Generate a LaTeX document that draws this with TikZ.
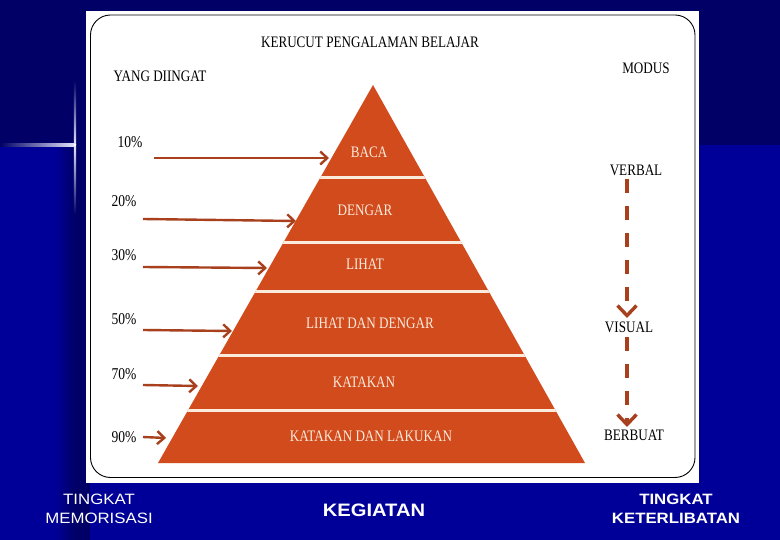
\documentclass[tikz,border=0pt]{standalone}
\usepackage{fontspec}
\setmainfont[FakeStretch=0.82]{Liberation Serif}
\newfontfamily\tah[FakeStretch=1.12]{Liberation Sans}
\usetikzlibrary{arrows.meta}
\definecolor{navy}{HTML}{000066}
\definecolor{bgblue}{HTML}{000098}
\definecolor{pyr}{HTML}{D14B1C}
\definecolor{arr}{HTML}{A8401E}
\definecolor{cream}{HTML}{FBEBDD}
\tikzset{
  lbl/.style={inner sep=0pt, font=\fontsize{16}{18}\selectfont, text=black},
  pct/.style={inner sep=0pt, font=\fontsize{16.5}{18}\selectfont, text=black},
  lay/.style={inner sep=0pt, font=\fontsize{16}{18}\selectfont, text=cream},
  foot/.style={inner sep=0pt, text=white, align=center},
  pctarrow/.style={draw=arr, line width=2.4pt, -{Straight Barb[length=7pt,width=13pt,line width=2.4pt]}},
  modarrow/.style={draw=arr, line width=3.6pt, dash pattern=on 14pt off 13pt, -{Straight Barb[length=10pt,width=19pt,line width=3.4pt]}},
  sep/.style={draw=cream, line width=3pt}
}
\begin{document}
\begin{tikzpicture}[x=1pt,y=-1pt]
\useasboundingbox (0,0) rectangle (780,540);
% background
\fill[bgblue] (0,0) rectangle (780,540);
\fill[navy] (0,0) rectangle (780,145);
\shade[left color=bgblue, right color=navy] (55,145) rectangle (75,540);
\fill[navy] (75,145) rectangle (90,540);
% flare
\shade[left color=navy, right color=white!90!blue] (0,143.8) rectangle (75,146.2);
\shade[top color=navy, bottom color=white!90!blue] (73.8,80) rectangle (76.2,145);
\shade[top color=white!90!blue, bottom color=navy] (73.8,145) rectangle (76.2,215);
\fill[white] (74,144) rectangle (76,146);
% panel
\fill[white] (86,11) rectangle (699,483);
\draw[black, line width=0.9pt, rounded corners=20pt] (90.5,15) rectangle (695,477.5);
% title texts
\node[lbl] (title) at (370,42) {KERUCUT PENGALAMAN BELAJAR};
\node[lbl] (ingat) at (160,76) {YANG DIINGAT};
\node[lbl] (modus) at (646,68) {MODUS};
% pyramid
\fill[pyr] (373,85) -- (585,463) -- (158,463) -- cycle;
\begin{scope}
  \clip (373,85) -- (585,463) -- (158,463) -- cycle;
  \foreach \yy in {178,243,292,356,410} \draw[sep] (150,\yy) -- (600,\yy);
\end{scope}
\node[lay] (baca) at (369,152) {BACA};
\node[lay] (dengar) at (365,210) {DENGAR};
\node[lay] (lihat) at (365,264) {LIHAT};
\node[lay] (lihatdengar) at (370,323) {LIHAT DAN DENGAR};
\node[lay] (katakan) at (364,382) {KATAKAN};
\node[lay] (lakukan) at (371,436) {KATAKAN DAN LAKUKAN};
% percentages
\node[pct] (p10) at (130,142) {10\%};
\node[pct] (p20) at (124,201) {20\%};
\node[pct] (p30) at (124,255) {30\%};
\node[pct] (p50) at (124,319) {50\%};
\node[pct] (p70) at (124,374) {70\%};
\node[pct] (p90) at (124,437) {90\%};
\coordinate (s10) at (154,158); \coordinate (e10) at (329,158);
\coordinate (s20) at (143,219); \coordinate (e20) at (296,221);
\coordinate (s30) at (143,267); \coordinate (e30) at (267,268);
\coordinate (s50) at (143,330); \coordinate (e50) at (232,331);
\coordinate (s70) at (143,385); \coordinate (e70) at (198,386);
\coordinate (s90) at (143,437); \coordinate (e90) at (166,438);
\draw[pctarrow] (s10) -- (e10);
\draw[pctarrow] (s20) -- (e20);
\draw[pctarrow] (s30) -- (e30);
\draw[pctarrow] (s50) -- (e50);
\draw[pctarrow] (s70) -- (e70);
\draw[pctarrow] (s90) -- (e90);
% modus column
\node[lbl] (verbal) at (636,170) {VERBAL};
\node[lbl] (visual) at (629,327) {VISUAL};
\node[lbl] (berbuat) at (634,435) {BERBUAT};
\coordinate (m1s) at (627,179); \coordinate (m1e) at (627,318);
\coordinate (m2s) at (627,337); \coordinate (m2e) at (627,427);
\draw[modarrow] (m1s) -- (m1e);
\draw[modarrow] (m2s) -- (m2e);
% footer
\node[foot, font=\tah\fontsize{15}{18.5}\selectfont] (memo) at (99,509) {TINGKAT\\MEMORISASI};
\node[foot, font=\tah\bfseries\fontsize{18}{20}\selectfont] (keg) at (374,510) {KEGIATAN};
\node[foot, font=\tah\bfseries\fontsize{15}{18.5}\selectfont] (keter) at (676,509) {TINGKAT\\KETERLIBATAN};
\end{tikzpicture}
\end{document}
